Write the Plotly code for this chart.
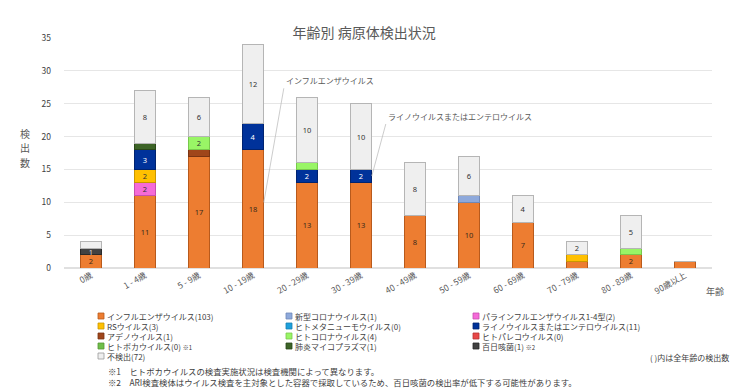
import plotly.graph_objects as go

categories = ["0歳", "1 - 4歳", "5 - 9歳", "10 - 19歳", "20 - 29歳", "30 - 39歳",
              "40 - 49歳", "50 - 59歳", "60 - 69歳", "70 - 79歳", "80 - 89歳", "90歳以上"]

flu        = [2, 11, 17, 18, 13, 13, 8, 10, 7, 1, 2, 1]
covid      = [0, 0, 0, 0, 0, 0, 0, 1, 0, 0, 0, 0]
para       = [0, 2, 0, 0, 0, 0, 0, 0, 0, 0, 0, 0]
rsv        = [0, 2, 0, 0, 0, 0, 0, 0, 0, 1, 0, 0]
hmpv       = [0, 0, 0, 0, 0, 0, 0, 0, 0, 0, 0, 0]
rhino      = [0, 3, 0, 4, 2, 2, 0, 0, 0, 0, 0, 0]
adeno      = [0, 0, 1, 0, 0, 0, 0, 0, 0, 0, 0, 0]
hcov       = [0, 0, 2, 0, 1, 0, 0, 0, 0, 0, 1, 0]
parecho    = [0, 0, 0, 0, 0, 0, 0, 0, 0, 0, 0, 0]
boca       = [0, 0, 0, 0, 0, 0, 0, 0, 0, 0, 0, 0]
myco       = [0, 1, 0, 0, 0, 0, 0, 0, 0, 0, 0, 0]
pertussis  = [1, 0, 0, 0, 0, 0, 0, 0, 0, 0, 0, 0]
notdet     = [1, 8, 6, 12, 10, 10, 8, 6, 4, 2, 5, 0]

footnotes = [
    "※1　ヒトボカウイルスの検査実施状況は検査機関によって異なります。",
    "※2　ARI検査検体はウイルス検査を主対象とした容器で採取しているため、百日咳菌の検出率が低下する可能性があります。",
]

series = [
    ("インフルエンザウイルス", flu, "#ED7D31", "#B85A1C", "#3A2A1A", ""),
    ("新型コロナウイルス", covid, "#8EA9DB", "#6F88B8", "#333333", ""),
    ("パラインフルエンザウイルス1-4型", para, "#F56BD8", "#C74FB0", "#333333", ""),
    ("RSウイルス", rsv, "#FFC000", "#C99700", "#333333", ""),
    ("ヒトメタニューモウイルス", hmpv, "#1EA0DC", "#1780B0", "#333333", ""),
    ("ライノウイルスまたはエンテロウイルス", rhino, "#00329A", "#002370", "#FFFFFF", ""),
    ("アデノウイルス", adeno, "#A0461A", "#7A3412", "#FFFFFF", ""),
    ("ヒトコロナウイルス", hcov, "#99F566", "#78C84C", "#333333", ""),
    ("ヒトパレコウイルス", parecho, "#E84848", "#B83434", "#333333", ""),
    ("ヒトボカウイルス", boca, "#6FBF4A", "#559636", "#333333", " <span style='font-size:6px'>※1</span>"),
    ("肺炎マイコプラズマ", myco, "#3D6427", "#2A4719", "#FFFFFF", ""),
    ("百日咳菌", pertussis, "#424242", "#2A2A2A", "#DDDDDD", " <span style='font-size:6px'>※2</span>"),
    ("不検出", notdet, "#EFEFEF", "#B5B5B5", "#333333", ""),
]

fig = go.Figure()
for name, vals, col, edge, tcol, _ in series:
    if name == "百日咳菌":
        txt = [str(v) if v > 0 else "" for v in vals]
    else:
        txt = [str(v) if v >= 2 else "" for v in vals]
    fig.add_trace(go.Bar(
        x=categories, y=vals, name=name, text=txt,
        textposition="inside", insidetextanchor="middle", textangle=0,
        textfont=dict(size=7.5, color=tcol, family="Noto Sans, sans-serif"),
        marker=dict(color=col, line=dict(color=edge, width=1)),
        showlegend=False, hoverinfo="x+y+name",
    ))

L, R, T, B = 64, 28, 38, 123
W, H = 740, 391
PW, PH = W - L - R, H - T - B

def px2paper(px, py):
    return (px - L) / PW, (H - B - py) / PH

shapes = []
annotations = []

# manual legend (3 columns)
col_x = [98, 286, 473]
row_y0, row_dy = 316, 10
for i, (name, vals, col, edge, tcol, note) in enumerate(series):
    r, c = divmod(i, 3)
    sx, sy = col_x[c], row_y0 + r * row_dy
    x0, y0 = px2paper(sx, sy + 3)
    x1, y1 = px2paper(sx + 6, sy - 3)
    shapes.append(dict(type="rect", xref="paper", yref="paper", x0=x0, y0=y0, x1=x1, y1=y1,
                       fillcolor=col, line=dict(color="#9A9A9A" if name == "不検出" else edge, width=0.8)))
    tx, ty = px2paper(sx + 8, sy)
    annotations.append(dict(xref="paper", yref="paper", x=tx, y=ty, xanchor="left", yanchor="middle",
                            text=f"{name}({sum(vals)}){note}", showarrow=False, borderpad=0,
                            font=dict(size=8, color="#404040", family="Noto Sans CJK JP")))

# callouts
annotations.append(dict(x=3.2, y=10, xref="x", yref="y", text="インフルエンザウイルス",
                        showarrow=True, arrowhead=0, arrowwidth=0.8, arrowcolor="#BFBFBF",
                        ax=20, ay=-114, xanchor="left", yanchor="bottom", standoff=0,
                        font=dict(size=8, color="#595959", family="Noto Sans CJK JP")))
annotations.append(dict(x=5.2, y=14, xref="x", yref="y", text="ライノウイルスまたはエンテロウイルス",
                        showarrow=True, arrowhead=0, arrowwidth=0.8, arrowcolor="#BFBFBF",
                        ax=14, ay=-52, xanchor="left", yanchor="bottom", standoff=0,
                        font=dict(size=8, color="#595959", family="Noto Sans CJK JP")))

# axis titles (vertical stacked characters)
for ch, py in zip("検出数", [133, 147, 162]):
    cx, cy = px2paper(25, py)
    annotations.append(dict(xref="paper", yref="paper", x=cx, y=cy, text=ch,
                            showarrow=False, xanchor="center", yanchor="middle", borderpad=0,
                            font=dict(size=10, color="#595959", family="Noto Sans CJK JP")))
nx, ny = px2paper(715, 291)
annotations.append(dict(xref="paper", yref="paper", x=nx, y=ny, text="年齢", showarrow=False,
                        xanchor="center", yanchor="middle",
                        font=dict(size=9, color="#595959", family="Noto Sans CJK JP")))

# notes
rx, ry = px2paper(730, 357)
annotations.append(dict(xref="paper", yref="paper", x=rx, y=ry, text="( )内は全年齢の検出数",
                        showarrow=False, xanchor="right", yanchor="middle", borderpad=0,
                        font=dict(size=8, color="#404040", family="Noto Sans CJK JP")))
for k, note in enumerate(footnotes):
    fx, fy = px2paper(107, 370.5 + 11 * k)
    annotations.append(dict(xref="paper", yref="paper", x=fx, y=fy, align="left", text=note,
                            showarrow=False, xanchor="left", yanchor="middle", borderpad=0,
                            font=dict(size=8.4, color="#404040", family="Noto Sans CJK JP")))

fig.update_layout(
    width=W, height=H,
    margin=dict(l=L, r=R, t=T, b=B),
    barmode="stack", bargap=0.6,
    paper_bgcolor="white", plot_bgcolor="white",
    title=dict(text="年齢別 病原体検出状況", x=0.492, xanchor="center", y=1 - 33 / H, yanchor="middle",
               font=dict(size=14, color="#595959", family="Noto Sans CJK JP")),
    uniformtext=dict(minsize=7, mode="show"),
    shapes=shapes, annotations=annotations,
    font=dict(family="Noto Sans CJK JP", color="#595959"),
)
fig.update_xaxes(tickangle=-30, tickfont=dict(size=8.5, color="#595959"), showgrid=False,
                 showline=False, ticks="")
fig.update_yaxes(range=[0, 35], dtick=5, gridcolor="#E6E6E6", gridwidth=1,
                 tickfont=dict(size=8.5, color="#404040"), zeroline=True, zerolinecolor="#E0E0E0",
                 ticks="", ticklabelstandoff=12)

fig.write_html("out.html", config={"displayModeBar": False},
               post_script="document.body.style.margin='0px';")
